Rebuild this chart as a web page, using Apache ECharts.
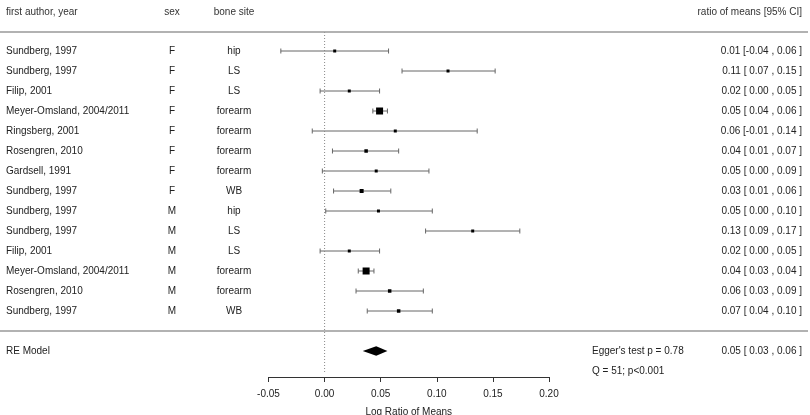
<!DOCTYPE html>
<html>
<head>
<meta charset="utf-8">
<script src="https://cdn.jsdelivr.net/npm/echarts@6/dist/echarts.min.js"></script>
</head>
<body style="margin:0;background:#fff">
<div id="main" style="width:810px;height:415px;"></div>
<script>
// study rows
var authors = ['Sundberg, 1997', 'Sundberg, 1997', 'Filip, 2001', 'Meyer-Omsland, 2004/2011',
  'Ringsberg, 2001', 'Rosengren, 2010', 'Gardsell, 1991', 'Sundberg, 1997', 'Sundberg, 1997',
  'Sundberg, 1997', 'Filip, 2001', 'Meyer-Omsland, 2004/2011', 'Rosengren, 2010', 'Sundberg, 1997'];
var sexes = ['F', 'F', 'F', 'F', 'F', 'F', 'F', 'F', 'M', 'M', 'M', 'M', 'M', 'M'];
var sites = ['hip', 'LS', 'LS', 'forearm', 'forearm', 'forearm', 'forearm', 'WB',
  'hip', 'LS', 'LS', 'forearm', 'forearm', 'WB'];
var est = [0.009, 0.110, 0.022, 0.049, 0.063, 0.037, 0.046, 0.033, 0.048, 0.132, 0.022, 0.037, 0.058, 0.066];
var lo = [-0.039, 0.069, -0.004, 0.043, -0.011, 0.007, -0.002, 0.008, 0.001, 0.090, -0.004, 0.030, 0.028, 0.038];
var hi = [0.057, 0.152, 0.049, 0.056, 0.136, 0.066, 0.093, 0.059, 0.096, 0.174, 0.049, 0.044, 0.088, 0.096];
var weights = [3, 3, 3, 7, 3, 3.5, 3, 4, 3, 3, 3, 7, 3.5, 3.5];   // square size, px

// summary (RE model)
var reEst = 0.046, reLo = 0.034, reHi = 0.056;
var eggerText = "Egger's test p = 0.78";
var qText = 'Q = 51; p<0.001';

var xTicks = { min: -0.05, max: 0.20, step: 0.05 };

var FONT = '"Liberation Sans", Arial, sans-serif';

function f2(v) {
  var s = v.toFixed(2);
  if (s === '-0.00') s = '0.00';
  return s;
}
function pad(v) {
  var s = f2(v);
  return s.charAt(0) === '-' ? s : ' ' + s;
}
function ciText(e, l, h) {
  return f2(e) + ' [' + pad(l) + ' , ' + f2(h) + ' ]';
}

// text columns on the full-width grid (0..810)
var col = { author: 6, sex: 172, site: 234, ci: 802, stats: 592 };

var texts = [];
function addText(x, row, str, align, color) {
  texts.push([x, row, str, align, color || '#222']);
}
addText(col.author, -0.95, 'first author, year', 'left', '#333');
addText(col.sex, -0.95, 'sex', 'center', '#333');
addText(col.site, -0.95, 'bone site', 'center', '#333');
addText(col.ci, -0.95, 'ratio of means [95% CI]', 'right', '#333');
authors.forEach(function (a, i) {
  addText(col.author, i + 1, a, 'left');
  addText(col.sex, i + 1, sexes[i], 'center');
  addText(col.site, i + 1, sites[i], 'center');
  addText(col.ci, i + 1, ciText(est[i], lo[i], hi[i]), 'right');
});
var reRow = authors.length + 2;
addText(col.author, reRow, 'RE Model', 'left');
addText(col.stats, reRow, eggerText, 'left');
addText(col.stats, reRow + 1, qText, 'left');
addText(col.ci, reRow, ciText(reEst, reLo, reHi), 'right');

var barData = authors.map(function (a, i) {
  return [i + 1, lo[i], est[i], hi[i], weights[i]];
});

var chart = echarts.init(document.getElementById('main'));

var option = {
  animation: false,
  textStyle: { fontFamily: FONT },
  grid: [
    { left: 268.5, width: 280.5, top: 1, height: 376, outerBoundsMode: 'none' },
    { left: 0, width: 810, top: 1, height: 376, outerBoundsMode: 'none' }
  ],
  xAxis: [{
    gridIndex: 0,
    type: 'value',
    position: 'bottom',
    min: xTicks.min,
    max: xTicks.max,
    interval: xTicks.step,
    axisLine: { show: true, onZero: false, lineStyle: { color: '#333', width: 1 } },
    axisTick: { show: true, length: 5, lineStyle: { color: '#333' } },
    axisLabel: { formatter: f2, fontSize: 10, color: '#222', margin: 12, fontFamily: FONT },
    splitLine: { show: false },
    name: 'Log Ratio of Means',
    nameLocation: 'middle',
    nameGap: 30,
    nameTextStyle: { fontSize: 10, color: '#222', fontFamily: FONT }
  }, {
    gridIndex: 1, type: 'value', min: 0, max: 810, show: false
  }],
  yAxis: [
    { gridIndex: 0, type: 'value', inverse: true, min: -1.5, max: 17.3, show: false },
    { gridIndex: 1, type: 'value', inverse: true, min: -1.5, max: 17.3, show: false }
  ],
  series: [
    // zero reference line
    {
      type: 'line', xAxisIndex: 0, yAxisIndex: 0, symbol: 'none',
      data: [[0, 0.05], [0, 17.1]],
      lineStyle: { color: '#888', width: 1, type: [1, 2] }
    },
    // separators
    {
      type: 'line', xAxisIndex: 1, yAxisIndex: 1, symbol: 'none',
      data: [[0, 0.05], [808, 0.05]],
      lineStyle: { color: '#999', width: 1.5 }
    },
    {
      type: 'line', xAxisIndex: 1, yAxisIndex: 1, symbol: 'none',
      data: [[0, 15.0], [808, 15.0]],
      lineStyle: { color: '#999', width: 1.5 }
    },
    // CIs + squares
    {
      type: 'custom', xAxisIndex: 0, yAxisIndex: 0,
      data: barData,
      encode: { x: [1, 2, 3], y: 0 },
      renderItem: function (params, api) {
        var y = api.value(0);
        var pl = api.coord([api.value(1), y]);
        var pr = api.coord([api.value(3), y]);
        var pc = api.coord([api.value(2), y]);
        var s = api.value(4);
        var st = { stroke: '#666', lineWidth: 1 };
        return {
          type: 'group',
          children: [
            { type: 'line', shape: { x1: pl[0], y1: pl[1], x2: pr[0], y2: pr[1] }, style: st },
            { type: 'line', shape: { x1: pl[0], y1: pl[1] - 2.5, x2: pl[0], y2: pl[1] + 2.5 }, style: st },
            { type: 'line', shape: { x1: pr[0], y1: pr[1] - 2.5, x2: pr[0], y2: pr[1] + 2.5 }, style: st },
            { type: 'rect', shape: { x: pc[0] - s / 2, y: pc[1] - s / 2, width: s, height: s }, style: { fill: '#000' } }
          ]
        };
      }
    },
    // RE diamond
    {
      type: 'custom', xAxisIndex: 0, yAxisIndex: 0,
      data: [[reRow, reLo, reEst, reHi]],
      encode: { x: [1, 2, 3], y: 0 },
      renderItem: function (params, api) {
        var y = api.value(0);
        var a = api.coord([api.value(1), y]);
        var t = api.coord([api.value(2), y - 0.24]);
        var b = api.coord([api.value(3), y]);
        var d = api.coord([api.value(2), y + 0.24]);
        return {
          type: 'polygon',
          shape: { points: [a, t, b, d] },
          style: { fill: '#000' }
        };
      }
    },
    // text columns
    {
      type: 'custom', xAxisIndex: 1, yAxisIndex: 1,
      data: texts,
      encode: { x: 0, y: 1 },
      renderItem: function (params, api) {
        var item = texts[params.dataIndex];
        var p = api.coord([item[0], item[1]]);
        return {
          type: 'text',
          x: p[0], y: p[1],
          style: {
            text: item[2],
            textAlign: item[3],
            textVerticalAlign: 'middle',
            font: '10px ' + FONT,
            fill: item[4]
          }
        };
      }
    }
  ]
};

chart.setOption(option);
</script>
</body>
</html>
